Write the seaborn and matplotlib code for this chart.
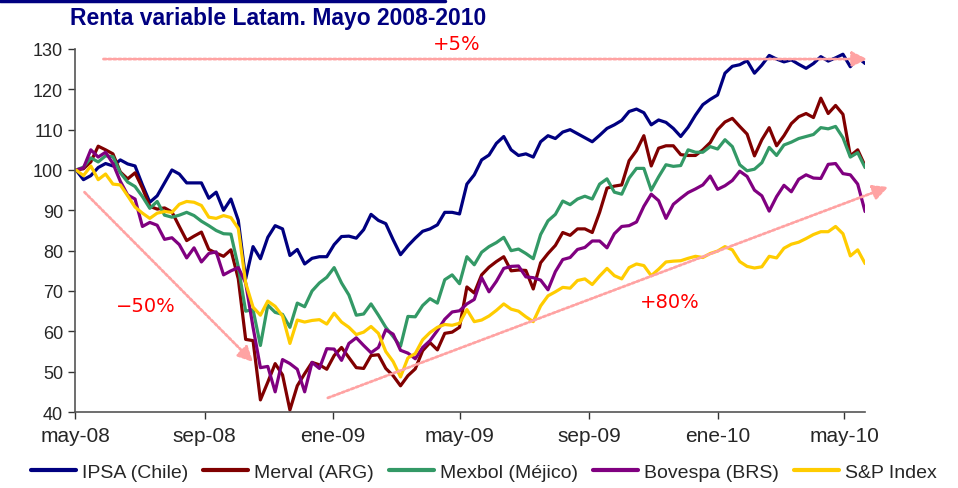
import matplotlib
matplotlib.use("Agg")
import matplotlib.pyplot as plt
from matplotlib.lines import Line2D
import seaborn as sns
import pandas as pd

# semanas desde 2 mayo 2008, base 100
fechas = pd.date_range("2008-05-02", periods=108, freq="7D")

ipsa = [100, 97.6, 98.6, 100.6, 101.6, 101, 102.5, 101.5, 101, 96.3,
        92, 93.6, 96.8, 100, 99, 96.8, 96.8, 96.8, 93, 94.5,
        90, 92.8, 87.5, 73, 81, 78, 83.3, 86.2, 85.4, 78.8,
        80.3, 76.7, 78.1, 78.5, 78.5, 81.5, 83.5, 83.6, 83.1, 85.2,
        89, 87.5, 86.7, 82.7, 79, 81.2, 83.1, 84.8, 85.4, 86.4,
        89.5, 89.5, 89.1, 96.5, 98.8, 102.5, 103.7, 106.6, 108.3, 105,
        103.6, 104, 103.2, 107, 108.5, 107.8, 109.4, 110, 109, 108,
        107, 108.6, 110.3, 111.2, 112.3, 114.5, 115.1, 114.2, 111.2, 112.4,
        111.8, 110.3, 108.3, 110.6, 113.6, 116.2, 117.5, 118.6, 124, 125.7,
        126.1, 127.1, 124, 126, 128.4, 127.5, 126.8, 127.3, 126.2, 125.2,
        126.4, 128.1, 127, 127.8, 128.7, 125.6, 127.9, 126.4]

merval = [100, 100.3, 102, 105.9, 105, 104, 99.5, 97.8, 99.3, 95.5,
          91, 90.3, 90.6, 89.6, 86, 82.5, 83.6, 84.6, 80.3, 79.4,
          78.6, 80.2, 73, 58, 57.7, 43, 47.4, 52, 49.2, 40.5,
          46.5, 49.5, 52.3, 51.7, 50.6, 54, 56, 53.5, 51, 50.8,
          54, 54.2, 50.8, 49, 46.5, 49, 50.7, 55.2, 57.2, 55.4,
          59.5, 59.8, 61, 71, 69.5, 74, 75.9, 77.3, 78.5, 75,
          75.2, 75.1, 70.5, 77, 79.3, 81.3, 84.5, 83.8, 85.4, 85.4,
          84.5, 89.5, 95.5, 96, 96.3, 102.3, 104.8, 108.5, 101, 105.4,
          106, 106, 103.8, 103.6, 103.6, 105, 106.8, 110, 111.9, 112.8,
          110.8, 108.9, 103.5, 107.5, 110.5, 106, 108.5, 111.5, 113.2, 114,
          113, 117.8, 114, 116, 113.8, 103.5, 105, 101]

mexbol = [100, 100.7, 103, 102, 103.5, 103.3, 99.3, 97, 95.9, 93.4,
          90.5, 92.2, 88.8, 88.3, 88.8, 89.5, 88.7, 87.3, 86.2, 85,
          84.2, 84.1, 76, 65, 65.4, 56.5, 66.5, 64.7, 64.2, 61,
          67, 66.1, 70, 72, 73.4, 75.8, 72, 69, 64, 64.3,
          66.8, 64, 61, 58.7, 56.3, 63.7, 63.6, 66.4, 68.1, 67,
          72.8, 74, 71.8, 78.5, 76.5, 79.6, 81, 82, 83.3, 80,
          80.4, 79.3, 78, 84, 87.4, 89, 92.3, 91.4, 92.8, 93.5,
          92.8, 96.5, 97.8, 94.5, 94, 98, 100.4, 100.4, 95, 98.3,
          101.3, 100.9, 101.1, 105, 104.4, 104.4, 105.8, 105.2, 107.5, 105.8,
          101.3, 99.8, 100.2, 101.8, 105.6, 103.6, 106.2, 106.9, 107.8, 108.3,
          108.8, 110.5, 110.2, 110.8, 108, 103.2, 104.3, 100.6]

bovespa = [100, 100.5, 105, 103.2, 104.4, 101.6, 97.2, 93.8, 92.8, 86,
           87, 86.3, 82.8, 83.2, 81.5, 78.2, 80.7, 77.2, 79.3, 79.7,
           74, 75, 75.8, 72, 61, 51, 51.3, 45, 53, 52,
           50.6, 45, 52.3, 50.8, 55.7, 55.6, 52.8, 57, 58.4, 56.5,
           54.7, 56, 60.4, 59.3, 55.3, 54.6, 53.2, 56, 57.7, 60.2,
           63, 64.8, 65.1, 66.8, 67.9, 73.3, 69.8, 72.4, 75.6, 76.1,
           76.2, 73.5, 73.3, 72.7, 70.3, 74.8, 77.8, 78.3, 80.3, 80.8,
           82.4, 82.4, 80.7, 84.2, 86, 86.2, 87.1, 91, 94, 92.4,
           88, 91.5, 93, 94.4, 95.3, 96.3, 98.5, 95.2, 96.1, 97.4,
           99.7, 98.4, 95, 93.6, 89.8, 93.4, 96.2, 94.6, 97.7, 98.8,
           98, 97.9, 101.4, 101.6, 99.1, 98.8, 96.5, 89.7]

sp = [100, 98.6, 101, 97.6, 99, 96.5, 96.3, 93.6, 90.8, 89.3,
      88, 89.3, 89.7, 89.5, 91.5, 92.2, 92, 91.2, 88.3, 88,
      88.7, 88.2, 85.5, 72, 66, 64, 67.5, 66.2, 63.8, 57,
      62.8, 62.3, 62.7, 62.9, 61.8, 64.5, 62.3, 61, 59.2, 59.8,
      61.2, 59.5, 55, 52.5, 48.7, 53.4, 54.5, 57.9, 59.7, 61,
      61.7, 61.5, 62, 65.4, 62.4, 62.8, 63.8, 65.2, 66.8, 65.5,
      65, 63.6, 62.4, 66.3, 68.8, 69.8, 70.9, 70.7, 72.6, 73,
      71.6, 73.7, 75.6, 73.8, 73, 75.8, 76.7, 76.3, 73.8, 75.4,
      77.2, 77.4, 77.5, 78.1, 78.6, 78.3, 79.3, 79.9, 81, 80.2,
      77.3, 76.1, 75.7, 76, 78.6, 78.2, 80.6, 81.6, 82.1, 83,
      84, 84.7, 84.7, 86, 84.2, 78.7, 80.2, 76.8]

series = ["IPSA (Chile)", "Merval (ARG)", "Mexbol (Méjico)", "Bovespa (BRS)", "S&P Index"]
colores = ["#000080", "#800000", "#339966", "#800080", "#FFCC00"]

tick_fechas = ["2008-05-01", "2008-09-01", "2009-01-01", "2009-05-01",
               "2009-09-01", "2010-01-01", "2010-05-01"]
tick_labels = ["may-08", "sep-08", "ene-09", "may-09", "sep-09", "ene-10", "may-10"]

df = pd.DataFrame({"fecha": fechas, series[0]: ipsa, series[1]: merval,
                   series[2]: mexbol, series[3]: bovespa, series[4]: sp})
df = df.melt(id_vars="fecha", var_name="indice", value_name="valor")

sns.set_style("white")
plt.rcParams["font.family"] = ["Liberation Sans", "DejaVu Sans"]

fig = plt.figure(figsize=(9.58, 4.89), dpi=100)
ax = fig.add_axes([0.0783, 0.1554, 0.8247, 0.7424])

sns.lineplot(data=df, x="fecha", y="valor", hue="indice", hue_order=series,
             palette=colores, linewidth=2.3, ax=ax, legend=False)

ax.set_xlim(pd.Timestamp("2008-05-01"), pd.Timestamp("2010-05-21"))
ax.set_ylim(40, 130)
ax.set_yticks(range(40, 131, 10))
ax.set_xticks([pd.Timestamp(t) for t in tick_fechas])
ax.set_xticklabels(tick_labels, fontsize=15)
ax.set_xlabel("")
ax.set_ylabel("")
ax.tick_params(axis="both", length=5, width=1, color="#333333",
               direction="out", left=True, bottom=True)
ax.tick_params(axis="y", labelsize=13)
ax.tick_params(axis="x", pad=5)
for s in ["top", "right"]:
    ax.spines[s].set_visible(False)
for s in ["left", "bottom"]:
    ax.spines[s].set_color("#555555")
    ax.spines[s].set_linewidth(1.2)

# flechas y textos
flecha = dict(arrowstyle="-|>,head_length=0.9,head_width=0.45", color="#ffa3a3",
              lw=2.0, linestyle=(0, (1, 0.8)), shrinkA=0, shrinkB=0)
ax.annotate("", xy=(pd.Timestamp("2010-05-23"), 127.5),
            xytext=(pd.Timestamp("2008-05-28"), 127.5),
            arrowprops=flecha, annotation_clip=False)
ax.annotate("", xy=(pd.Timestamp("2008-10-17"), 52.4),
            xytext=(pd.Timestamp("2008-05-10"), 94.5),
            arrowprops=flecha, annotation_clip=False)
ax.annotate("", xy=(pd.Timestamp("2010-06-12"), 95.8),
            xytext=(pd.Timestamp("2008-12-27"), 43.5),
            arrowprops=flecha, annotation_clip=False)
ax.text(pd.Timestamp("2009-04-28"), 131.3, "+5%", color="red", fontsize=14,
        ha="center", va="center", family="DejaVu Sans")
ax.text(pd.Timestamp("2008-07-07"), 66.5, "\u221250%", color="red", fontsize=14,
        ha="center", va="center", family="DejaVu Sans")
ax.text(pd.Timestamp("2009-11-17"), 67.5, "+80%", color="red", fontsize=14,
        ha="center", va="center", family="DejaVu Sans")

fig.text(0.073, 0.962, "Renta variable Latam. Mayo 2008-2010", color="#000080",
         fontsize=16.5, fontweight="bold", ha="left", va="center")
fig.add_artist(Line2D([0, 0.465], [0.995, 0.995], color="#000080", lw=2.5))

handles = [Line2D([], [], color=c, lw=3) for c in colores]
fig.legend(handles, series, loc="center", bbox_to_anchor=(0.505, 0.033), ncol=5,
           frameon=False, fontsize=14,
           handlelength=2.3, handletextpad=0.3, columnspacing=0.8)

fig.savefig("out.png", dpi=100)
